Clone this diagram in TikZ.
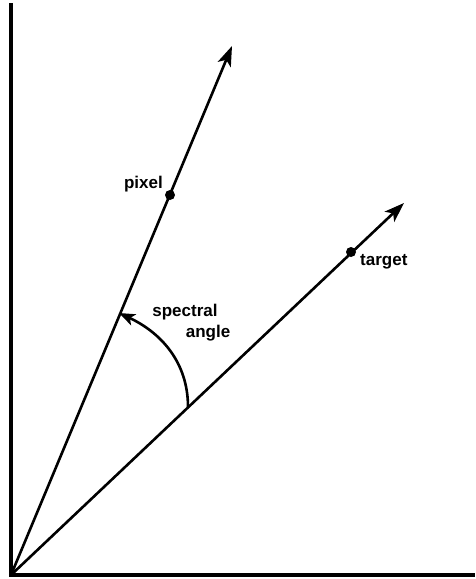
\documentclass[tikz,border=0pt]{standalone}
\usepackage{fontspec}
\setmainfont{Liberation Sans}
\usetikzlibrary{arrows.meta}
\begin{document}
\begin{tikzpicture}[x=1pt,y=-1pt,
  axis/.style={line width=3.2pt},
  vec/.style={line width=2.6pt,-{Stealth[length=20pt,width=14pt,inset=5pt]}},
  dotm/.style={circle,fill=black,inner sep=0pt,minimum size=10pt},
  lbl/.style={font=\bfseries\fontsize{17}{19}\selectfont,inner sep=0pt}]
\useasboundingbox (0,0) rectangle (475,579);
\coordinate (top) at (11,3);
\coordinate (O) at (11,575);
\coordinate (right) at (475,575);
\coordinate (P) at (232,46);
\coordinate (T) at (404,203);
\draw[axis] (top) -- (O) -- (right);
\draw[vec] (O) -- (P);
\draw[vec] (O) -- (T);
\node[dotm] (pd) at (170,195) {};
\node[dotm] (td) at (351,252) {};
\node[lbl,anchor=east] (pl) at (163,184) {pixel};
\node[lbl,anchor=west] (tl) at (360,262) {target};
\node[lbl] (sa1) at (185,312) {spectral};
\node[lbl] (sa2) at (208,333) {angle};
\coordinate (a1) at (188,407);
\coordinate (a2) at (119,313);
\draw[line width=2.6pt,-{Stealth[length=16pt,width=12pt,inset=4pt]}] (a1) to[out=90,in=-25] (a2);
\end{tikzpicture}
\end{document}
